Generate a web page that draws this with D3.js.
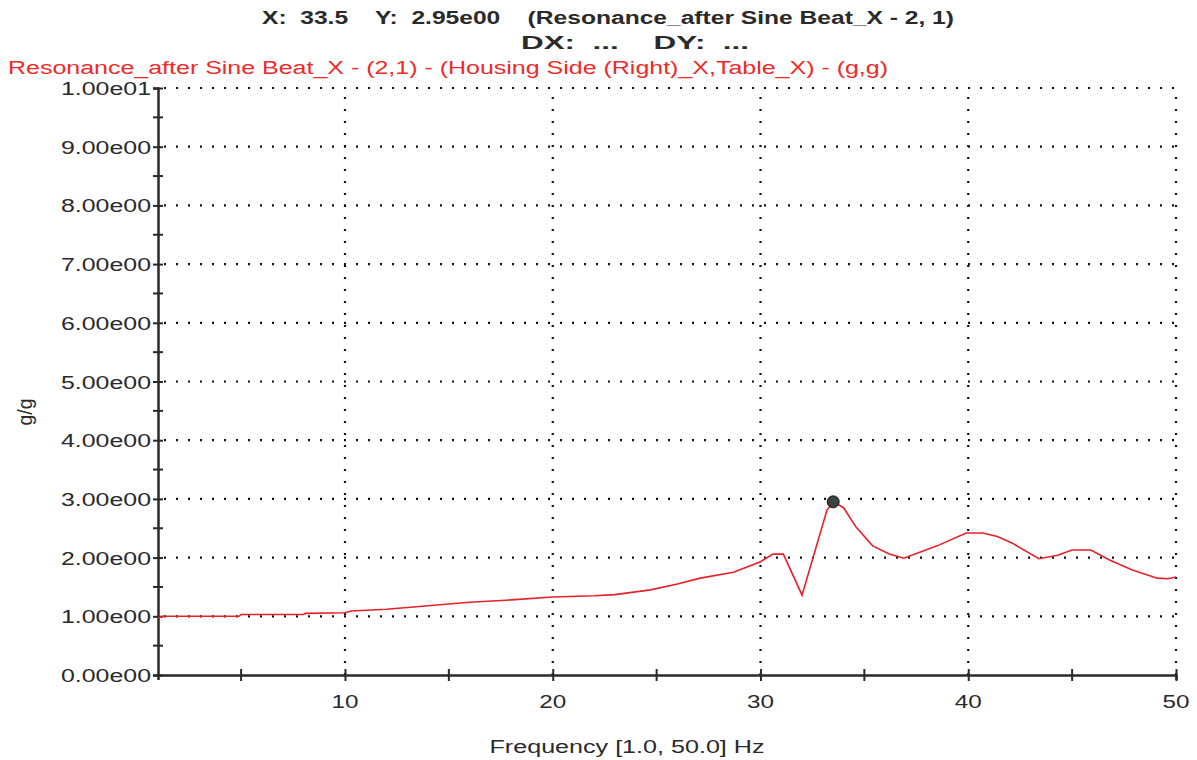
<!DOCTYPE html>
<html>
<head>
<meta charset="utf-8">
<script src="https://cdn.jsdelivr.net/npm/d3@7"></script>
<style>
  body { margin: 0; background: #fff; }
  text { font-family: "Liberation Sans", Arial, sans-serif; white-space: pre; }
</style>
</head>
<body>
<div id="chart"></div>
<script>
// Frequency response readings (Hz, g/g)
const freq = [1.0, 1.2, 1.5, 4.9, 5.0, 8.0, 8.1, 10.0, 10.3, 12.0, 14.0, 16.0, 18.0, 20.0, 22.0, 23.0,
  24.7, 26.0, 27.1, 28.7, 30.0, 30.6, 31.1, 32.0, 33.2, 33.5, 34.0, 34.6, 35.4, 36.2, 36.9, 38.5, 39.9, 40.7,
  41.4, 42.1, 43.4, 44.3, 45.0, 45.9, 46.8, 47.9, 49.1, 49.6, 50.0];
const gain = [0.97, 1.0, 1.0, 1.0, 1.03, 1.03, 1.05, 1.06, 1.09, 1.12, 1.18, 1.24, 1.28, 1.33, 1.35, 1.37,
  1.45, 1.55, 1.65, 1.75, 1.93, 2.06, 2.06, 1.36, 2.81, 2.95, 2.85, 2.52, 2.2, 2.06, 1.99, 2.2, 2.42, 2.42,
  2.36, 2.25, 1.98, 2.04, 2.13, 2.13, 1.96, 1.79, 1.65, 1.64, 1.67];
const cursor = { x: 33.5, y: 2.95 };

const xMajor = [10, 20, 30, 40, 50];
const xMinor = [5, 15, 25, 35, 45];
const yMajor = [0, 1, 2, 3, 4, 5, 6, 7, 8, 9, 10];
const yLabels = ["0.00e00", "1.00e00", "2.00e00", "3.00e00", "4.00e00", "5.00e00",
  "6.00e00", "7.00e00", "8.00e00", "9.00e00", "1.00e01"];
const yMinor = [0.5, 1.5, 2.5, 3.5, 4.5, 5.5, 6.5, 7.5, 8.5, 9.5];

const W = 1197, H = 760;
const svg = d3.select("#chart").append("svg").attr("width", W).attr("height", H);
svg.append("rect").attr("width", W).attr("height", H).attr("fill", "#fff");

const x = d3.scaleLinear().domain([1, 50]).range([158, 1176]);
const y = d3.scaleLinear().domain([0, 10]).range([675, 88]);

const ink = "#2a2a2a";

// stretched text helper (the scan is wider than normal glyphs)
function label(g, str, px, py, opts) {
  const t = g.append("text")
    .attr("x", px).attr("y", py)
    .attr("font-size", opts.size || 18)
    .attr("fill", opts.fill || ink)
    .attr("font-weight", opts.bold ? "bold" : "normal")
    .attr("text-anchor", opts.anchor || "start")
    .attr("xml:space", "preserve")
    .text(str);
  if (opts.len) t.attr("textLength", opts.len).attr("lengthAdjust", "spacingAndGlyphs");
  return t;
}

// dotted grid
const grid = svg.append("g").attr("stroke", "#111").attr("stroke-width", 2.2)
  .attr("stroke-dasharray", "2,10").attr("stroke-linecap", "butt");
grid.selectAll("line.h").data(yMajor.filter(d => d > 0)).join("line")
  .attr("x1", x(1) + 6).attr("x2", x(50))
  .attr("y1", d => y(d)).attr("y2", d => y(d));
grid.selectAll("line.v").data(xMajor).join("line")
  .attr("x1", d => x(d)).attr("x2", d => x(d))
  .attr("y1", y(0)).attr("y2", y(10));

// axes with crossing ticks
const yAxis = svg.append("g").attr("transform", `translate(${x(1)},0)`);
yAxis.call(d3.axisLeft(y).tickValues(yMajor).tickSize(5).tickFormat((d, i) => yLabels[i]));
yAxis.selectAll(".tick text").remove();
yAxis.select(".domain").attr("stroke", ink).attr("stroke-width", 2.5);
yAxis.selectAll(".tick line").attr("x2", -5).attr("x1", 5).attr("stroke", ink).attr("stroke-width", 2);
yAxis.selectAll(".minor").data(yMinor).join("line")
  .attr("x1", -5).attr("x2", 5).attr("y1", d => y(d)).attr("y2", d => y(d))
  .attr("stroke", ink).attr("stroke-width", 2);

const xAxis = svg.append("g").attr("transform", `translate(0,${y(0)})`);
xAxis.call(d3.axisBottom(x).tickValues(xMajor).tickSize(5).tickFormat(d3.format("d")));
xAxis.selectAll(".tick text").remove();
xAxis.select(".domain").attr("stroke", ink).attr("stroke-width", 2.5);
xAxis.selectAll(".tick line").attr("y1", -6).attr("y2", 6).attr("stroke", ink).attr("stroke-width", 2);
xAxis.selectAll(".minor").data(xMinor).join("line")
  .attr("y1", -6).attr("y2", 6).attr("x1", d => x(d)).attr("x2", d => x(d))
  .attr("stroke", ink).attr("stroke-width", 2);

// tick labels
const tl = svg.append("g");
yMajor.forEach((d, i) => label(tl, yLabels[i], 151, y(d) + 7, { anchor: "end", len: 90 }));
xMajor.forEach(d => label(tl, String(d), x(d), y(0) + 33, { anchor: "middle", len: 27 }));

// response line
const pts = freq.map((f, i) => [f, gain[i]]);
svg.append("path").datum(pts)
  .attr("fill", "none").attr("stroke", "#e8202a").attr("stroke-width", 1.6)
  .attr("d", d3.line().x(d => x(d[0])).y(d => y(d[1])));

// cursor marker
svg.append("circle").attr("cx", x(cursor.x)).attr("cy", y(cursor.y)).attr("r", 6)
  .attr("fill", "#3c4242").attr("stroke", "#1a1a1a").attr("stroke-width", 1);

// header texts
const hd = svg.append("g");
label(hd, "X:  33.5    Y:  2.95e00    (Resonance_after Sine Beat_X - 2, 1)", 262, 24, { bold: true, len: 692 });
label(hd, "DX:  ...    DY:  ...", 521, 49, { bold: true, len: 228 });
label(hd, "Resonance_after Sine Beat_X - (2,1) - (Housing Side (Right)_X,Table_X) - (g,g)", 8, 74,
  { fill: "#ee2a2a", len: 880 });

// axis titles
label(svg, "Frequency [1.0, 50.0] Hz", 627, 753, { anchor: "middle", len: 275 });
label(svg, "g/g", 0, 0, { anchor: "middle", len: 27, size: 20 })
  .attr("transform", "translate(32,412) rotate(-90)").attr("x", 0).attr("y", 0);
</script>
</body>
</html>
